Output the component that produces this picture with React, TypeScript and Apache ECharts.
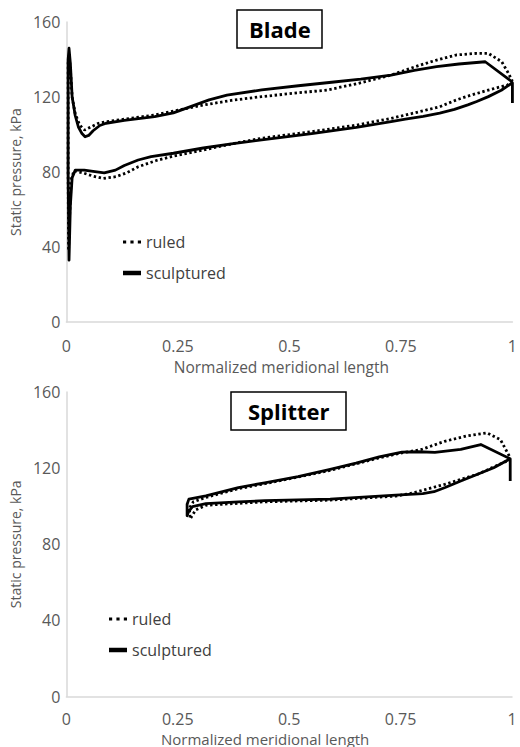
import React, { useEffect, useRef } from "react";
import * as echarts from "echarts";

const xTicks = [0, 0.25, 0.5, 0.75, 1];
const yTicks = [0, 40, 80, 120, 160];
const seriesNames = ["ruled", "sculptured"];
const panelTitles = ["Blade", "Splitter"];

const bladeRuled: [number, number][] = [
  [1.0, 128.5], [0.989, 126.4], [0.946, 123.7], [0.9, 120.5], [0.874, 118.4],
  [0.837, 114.8], [0.78, 111.5], [0.728, 108.6], [0.65, 105], [0.55, 101.5],
  [0.438, 98], [0.37, 95], [0.307, 91.7], [0.24, 88.5], [0.2, 86],
  [0.161, 82.8], [0.135, 79.5], [0.111, 77.5], [0.083, 76.6], [0.06, 77.8],
  [0.039, 79.4], [0.017, 80.7], [0.011, 76], [0.007, 55], [0.005, 38],
  [0.004, 80], [0.004, 138], [0.006, 142], [0.009, 135], [0.013, 120],
  [0.02, 111], [0.03, 105], [0.041, 102.4], [0.055, 104], [0.07, 105.8],
  [0.089, 106.8], [0.14, 108.5], [0.198, 110.4], [0.25, 113], [0.307, 115.7],
  [0.37, 118.2], [0.438, 120.2], [0.51, 122], [0.584, 123.7], [0.65, 127],
  [0.728, 131.7], [0.78, 136], [0.83, 139.7], [0.874, 142.4], [0.92, 143.3],
  [0.946, 143.3], [0.976, 138.8], [0.989, 133.5], [1.0, 128.5],
];

const bladeSculptured: [number, number][] = [
  [1.0, 116.8], [1.0, 127.5], [0.998, 127.3], [0.975, 123.6], [0.946, 120.2],
  [0.92, 117.6], [0.9, 115.8], [0.87, 113.4], [0.837, 111.4], [0.8, 109.7],
  [0.76, 108.2], [0.728, 106.9], [0.65, 103.8], [0.55, 100.5], [0.438, 97.1],
  [0.37, 95], [0.307, 92.8], [0.24, 90], [0.19, 88.2], [0.161, 86.4],
  [0.13, 83.5], [0.11, 81], [0.085, 79.5], [0.06, 80.3], [0.04, 81],
  [0.02, 81], [0.013, 77], [0.009, 62], [0.006, 33], [0.004, 80],
  [0.004, 140], [0.006, 146], [0.009, 138], [0.013, 120], [0.02, 110],
  [0.027, 104], [0.035, 100.5], [0.042, 98.8], [0.05, 99.5], [0.06, 102],
  [0.075, 104.8], [0.089, 106], [0.13, 107.5], [0.198, 109.5], [0.24, 111.5],
  [0.28, 115], [0.32, 118.5], [0.36, 121], [0.438, 123.8], [0.52, 126],
  [0.6, 128], [0.66, 129.5], [0.728, 131.7], [0.78, 134.2], [0.83, 136.2],
  [0.88, 137.6], [0.939, 138.8], [1.0, 128],
];

const splitterRuled: [number, number][] = [
  [0.996, 125.4], [0.988, 123.7], [0.922, 116.7], [0.849, 111.5], [0.775, 106.8],
  [0.739, 105.3], [0.592, 103.2], [0.445, 102.3], [0.313, 100.5], [0.29, 98],
  [0.278, 93.3], [0.276, 99], [0.285, 102.3], [0.313, 104.6], [0.386, 109.2],
  [0.445, 111.8], [0.592, 118.8], [0.702, 125.4], [0.753, 128], [0.797, 129.8],
  [0.849, 134.1], [0.9, 137], [0.944, 138.5], [0.974, 135], [0.996, 125.4],
];

const splitterSculptured: [number, number][] = [
  [0.996, 113.2], [0.996, 124.9], [0.959, 120.2], [0.92, 116.5], [0.885, 113.2],
  [0.85, 109.8], [0.825, 107.6], [0.8, 106.6], [0.739, 105.8], [0.592, 103.7],
  [0.445, 102.9], [0.386, 102.3], [0.313, 101.3], [0.283, 99.8], [0.274, 97],
  [0.271, 95], [0.271, 101], [0.275, 103.7], [0.313, 105.4], [0.386, 109.8],
  [0.445, 112.3], [0.52, 115.5], [0.592, 119.3], [0.65, 122.6], [0.702, 125.9],
  [0.753, 128.4], [0.79, 128.6], [0.827, 128.3], [0.885, 129.8], [0.93, 132.4],
  [0.996, 124.9],
];

const FONT = "'Open Sans', 'Noto Sans', sans-serif";
const AXIS_GRAY = "#d9d9d9";
const LABEL_GRAY = "#595959";
const DOT_ICON = "path://M0,0h3v3h-3zM7,0h3v3h-3zM14,0h3v3h-3z";
const SOLID_ICON = "path://M0,0h16v4h-16z";

export default function App() {
  const ref = useRef<HTMLDivElement>(null);

  useEffect(() => {
    if (!ref.current) return;
    const chart = echarts.init(ref.current, null, { renderer: "svg" });

    const xAxisBase = (nameGap: number, fontSize: number, padRight: number, margin: number) => ({
      type: "value" as const,
      min: xTicks[0],
      max: xTicks[xTicks.length - 1],
      interval: xTicks[1] - xTicks[0],
      name: "Normalized meridional length",
      nameLocation: "middle" as const,
      nameGap,
      nameTextStyle: {
        fontFamily: FONT, fontSize, lineHeight: 14, color: LABEL_GRAY,
        padding: [0, padRight, 0, 0],
      },
      axisLine: { show: true, lineStyle: { color: AXIS_GRAY, width: 1.5 } },
      axisTick: { show: false },
      splitLine: { show: false },
      axisLabel: {
        margin,
        fontFamily: FONT,
        fontSize: 16,
        lineHeight: 14,
        color: LABEL_GRAY,
        formatter: (v: number) => String(v),
      },
    });

    const yAxisBase = () => ({
      type: "value" as const,
      min: yTicks[0],
      max: yTicks[yTicks.length - 1],
      interval: yTicks[1] - yTicks[0],
      name: "Static pressure, kPa",
      nameLocation: "middle" as const,
      nameGap: 32,
      nameTextStyle: { fontFamily: FONT, fontSize: 14, color: LABEL_GRAY },
      axisLine: { show: true, lineStyle: { color: AXIS_GRAY, width: 1.5 } },
      axisTick: { show: false },
      splitLine: { show: false },
      axisLabel: { margin: 6, fontFamily: FONT, fontSize: 16, color: LABEL_GRAY },
    });

    const dotted = { color: "#000", width: 2.8, type: [2.4, 2.6] as number[], cap: "butt" as const };
    const solid = { color: "#000", width: 2.8, type: "solid" as const, join: "round" as const };

    const mkSeries = (name: string, idx: number, data: [number, number][], style: any) => ({
      name,
      type: "line" as const,
      xAxisIndex: idx,
      yAxisIndex: idx,
      data,
      symbol: "none",
      showSymbol: false,
      smooth: false,
      color: "#000",
      lineStyle: style,
    });

    const legendBase = (left: number, top: number) => ({
      data: [
        { name: seriesNames[0], icon: DOT_ICON },
        { name: seriesNames[1], icon: SOLID_ICON },
      ],
      left,
      top,
      orient: "vertical" as const,
      itemGap: 15,
      itemWidth: 18,
      itemHeight: 14,
      selectedMode: false,
      itemStyle: { color: "#000", borderWidth: 0 },
      textStyle: { fontFamily: FONT, fontSize: 16, color: "#404040" },
    });

    const titleBase = (text: string, left: number, top: number, padH: number) => ({
      text,
      left,
      top,
      padding: [8, padH, 8, padH],
      borderColor: "#000",
      borderWidth: 1.5,
      textStyle: { fontFamily: FONT, fontSize: 22, fontWeight: "bold" as const, color: "#000", lineHeight: 22 },
    });

    chart.setOption({
      animation: false,
      backgroundColor: "#fff",
      title: [
        titleBase(panelTitles[0], 237, 10, 12),
        titleBase(panelTitles[1], 231, 392, 17),
      ],
      legend: [legendBase(118, 229), legendBase(104, 606)],
      grid: [
        { left: 59, top: 22, width: 459, height: 300 },
        { left: 58, top: 392, width: 454, height: 307 },
      ],
      xAxis: [
        { ...xAxisBase(38, 15.5, 16, 17), gridIndex: 0 },
        { ...xAxisBase(35, 15, 48, 15), gridIndex: 1 },
      ],
      yAxis: [
        { ...yAxisBase(), gridIndex: 0 },
        { ...yAxisBase(), gridIndex: 1 },
      ],
      series: [
        mkSeries(seriesNames[0], 0, bladeRuled, dotted),
        mkSeries(seriesNames[1], 0, bladeSculptured, solid),
        mkSeries(seriesNames[0], 1, splitterRuled, dotted),
        mkSeries(seriesNames[1], 1, splitterSculptured, solid),
      ],
    });

    return () => chart.dispose();
  }, []);

  return (
    <div
      ref={ref}
      style={{ position: "absolute", left: 0, top: 0, width: 520, height: 747 }}
    />
  );
}
